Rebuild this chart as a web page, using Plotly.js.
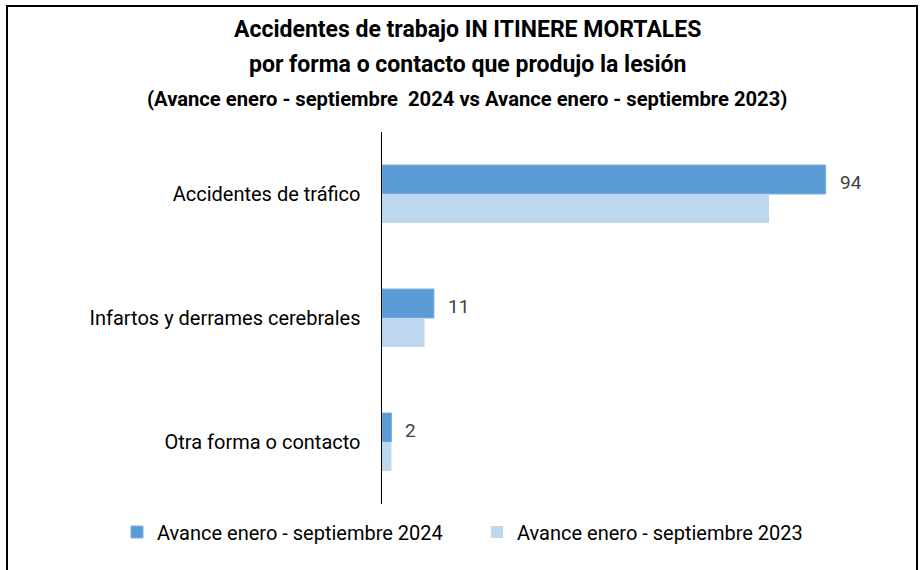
<!DOCTYPE html>
<html><head><meta charset="utf-8">
<script src="https://cdn.plot.ly/plotly-3.0.1.min.js"></script>
<style>
body{margin:0;padding:0;background:#fff;}
#wrap{position:relative;width:920px;height:570px;}
#chart{width:920px;height:570px;}
#frame{position:absolute;left:6px;top:5px;width:908px;height:580px;border:2px solid #000;pointer-events:none;}
</style></head>
<body>
<div id="wrap"><div id="chart"></div><div id="frame"></div></div>
<script>
const categories = ["Accidentes de tráfico", "Infartos y derrames cerebrales", "Otra forma o contacto"];
const series2024 = [94, 11, 2];
const series2023 = [82, 9, 2];
const name2024 = "Avance enero - septiembre 2024";
const name2023 = "Avance enero - septiembre 2023";
const titleLines = ["Accidentes de trabajo IN ITINERE MORTALES", "por forma o contacto que produjo la lesión", "(Avance enero - septiembre  2024 vs Avance enero - septiembre 2023)"];

const FONT = "Roboto, sans-serif";

const traces = [
  {type:'bar', orientation:'h', y:categories, x:series2024, name:name2024,
   marker:{color:'#5B9BD5', line:{color:'#7FB0E0', width:1}}, hoverinfo:'none'},
  {type:'bar', orientation:'h', y:categories, x:series2023, name:name2023,
   marker:{color:'#BDD7EE'}, hoverinfo:'none'}
];

const annotations = series2024.map((v,i)=>({
  x:v, y:categories[i], xref:'x', yref:'y', text:String(v), showarrow:false,
  xanchor:'left', yanchor:'middle', xshift:12, yshift:12,
  font:{family:FONT, size:19, color:'#404040'}
}));
const titleSizes = [23, 23, 20.2];
const titleY = [29, 65, 99];
titleLines.forEach((t,i)=>annotations.push({
  text:'<b>'+t+'</b>', xref:'paper', yref:'paper', x:(467-382)/472, y:(570-66-titleY[i])/(570-132-66),
  xanchor:'center', yanchor:'middle', showarrow:false, font:{family:FONT,size:titleSizes[i],color:'#000'}
}));

const layout = {
  width:920, height:570,
  margin:{l:382, r:66, t:132, b:66},
  paper_bgcolor:'#fff', plot_bgcolor:'#fff',
  barmode:'group', bargap:0.532, bargroupgap:0,
  showlegend:true,
  legend:{orientation:'h', x:(117-382)/472, xanchor:'left', y:-(532-504)/372, yanchor:'middle',
          font:{family:FONT, size:20, color:'#000'}, traceorder:'normal', itemwidth:30, entrywidth:315},
  xaxis:{range:[0,100], showgrid:false, zeroline:false, showticklabels:false, showline:false, ticks:'', fixedrange:true},
  yaxis:{autorange:'reversed', showgrid:false, zeroline:false, showline:true, linecolor:'#000', linewidth:1.5,
         ticks:'', ticklabelstandoff:16, tickfont:{family:FONT, size:20, color:'#000'}, automargin:false},
  annotations:annotations
};

Plotly.newPlot('chart', traces, layout, {staticPlot:true});
</script>
</body></html>
